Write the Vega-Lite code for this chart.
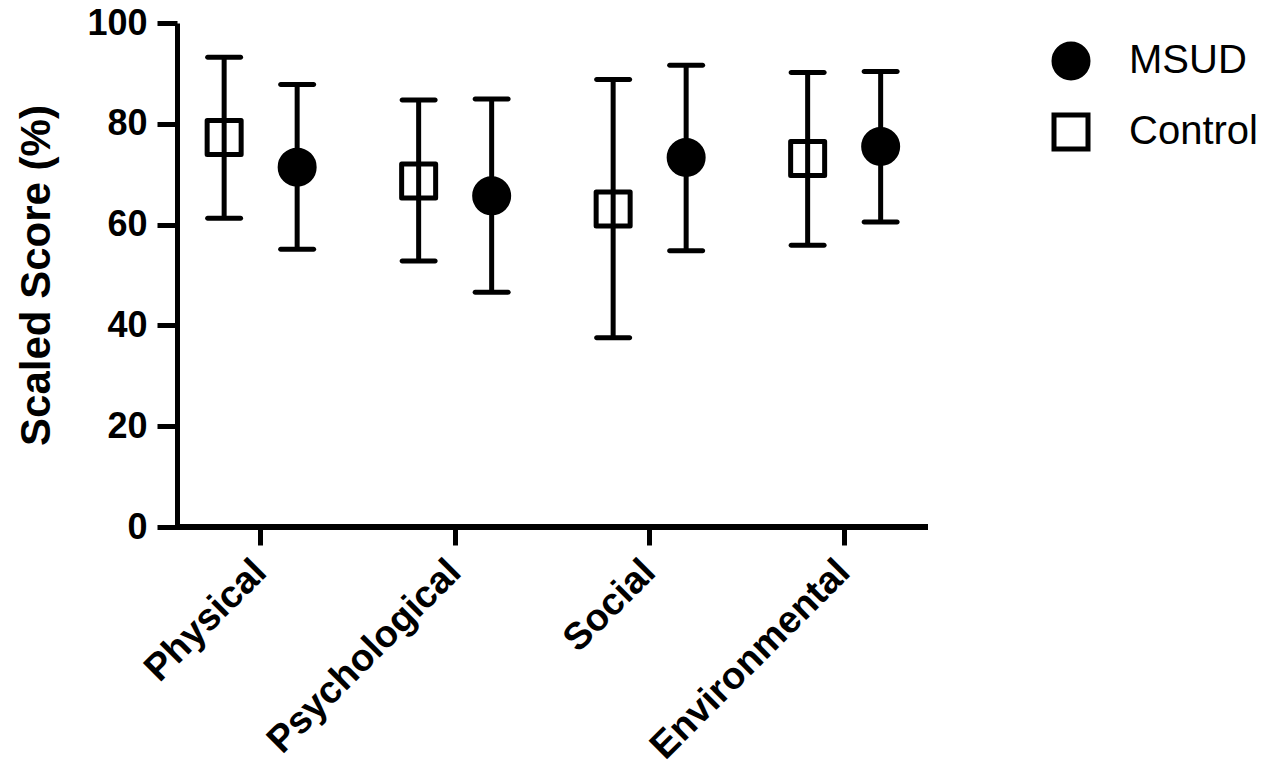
{
  "$schema": "https://vega.github.io/schema/vega-lite/v6.json",
  "width": 751,
  "height": 504,
  "autosize": {"type": "none"},
  "padding": {"left": 177, "top": 23, "right": 334, "bottom": 240},
  "background": "white",
  "config": {"view": {"stroke": null}, "font": "Liberation Sans"},
  "data": {"values": [
    {"domain": "Physical", "group": "Control", "mean": 77.3, "lower": 61.25, "upper": 93.2},
    {"domain": "Physical", "group": "MSUD", "mean": 71.4, "lower": 55.1, "upper": 87.8},
    {"domain": "Psychological", "group": "Control", "mean": 68.65, "lower": 52.8, "upper": 84.7},
    {"domain": "Psychological", "group": "MSUD", "mean": 65.7, "lower": 46.6, "upper": 84.9},
    {"domain": "Social", "group": "Control", "mean": 63.1, "lower": 37.56, "upper": 88.8},
    {"domain": "Social", "group": "MSUD", "mean": 73.3, "lower": 54.8, "upper": 91.6},
    {"domain": "Environmental", "group": "Control", "mean": 73.1, "lower": 55.9, "upper": 90.2},
    {"domain": "Environmental", "group": "MSUD", "mean": 75.5, "lower": 60.5, "upper": 90.4}
  ]},
  "layer": [
    {
      "mark": {"type": "rule", "strokeWidth": 5, "color": "black"},
      "encoding": {"y": {"datum": 0, "type": "quantitative"}}
    },
    {
      "encoding": {
        "x": {
          "field": "domain", "type": "nominal",
          "sort": ["Physical", "Psychological", "Social", "Environmental"],
          "scale": {"paddingInner": 0, "paddingOuter": 0, "range": [-13.6, 764.4]},
          "axis": {
            "title": null, "labelAngle": -45, "labelAlign": "right", "labelBaseline": "middle",
            "labelFontSize": 38, "labelFontWeight": "bold", "labelFont": "Liberation Sans", "labelColor": "black",
            "labelPadding": 21, "labelOverlap": false, "labelBound": false, "labelFlush": false, "labelLimit": 0,
            "tickSize": 18, "tickWidth": 5, "tickColor": "black",
            "domain": false, "grid": false
          }
        },
        "xOffset": {
          "field": "group", "type": "nominal",
          "scale": {"domain": ["Control", "MSUD"], "paddingInner": 0, "paddingOuter": 0.332}
        }
      },
      "layer": [
        {
          "mark": {"type": "point", "size": 1156, "strokeWidth": 5, "opacity": 1, "filled": false, "strokeJoin": "round"},
          "encoding": {
            "y": {
              "field": "mean", "type": "quantitative",
              "scale": {"domain": [0, 100], "nice": false, "zero": true},
              "axis": {
                "values": [0, 20, 40, 60, 80, 100],
                "title": "Scaled Score (%)", "titleFontSize": 42, "titleFontWeight": "bold", "titleFont": "Liberation Sans", "titleColor": "black",
                "titlePadding": 28,
                "labelFontSize": 36, "labelFontWeight": "bold", "labelFont": "Liberation Sans", "labelColor": "black",
                "labelPadding": 10, "tickSize": 20, "tickWidth": 5, "tickColor": "black",
                "domainWidth": 5, "domainColor": "black", "grid": false
              }
            },
            "shape": {
              "field": "group", "type": "nominal",
              "scale": {"domain": ["MSUD", "Control"], "range": ["circle", "square"]},
              "legend": {
                "title": null, "orient": "none", "legendX": 874, "legendY": 18, "padding": 0,
                "labelFontSize": 40, "labelFont": "Liberation Sans", "labelColor": "black",
                "symbolSize": 1156, "symbolStrokeWidth": 5,
                "rowPadding": 17, "labelOffset": 38
              }
            },
            "fill": {
              "field": "group", "type": "nominal",
              "scale": {"domain": ["MSUD", "Control"], "range": ["black", "white"]},
              "legend": {
                "title": null, "orient": "none", "legendX": 874, "legendY": 18, "padding": 0,
                "labelFontSize": 40, "labelFont": "Liberation Sans", "labelColor": "black",
                "symbolSize": 1156, "symbolStrokeWidth": 5,
                "rowPadding": 17, "labelOffset": 38
              }
            },
            "stroke": {
              "field": "group", "type": "nominal",
              "scale": {"domain": ["MSUD", "Control"], "range": ["black", "black"]},
              "legend": {
                "title": null, "orient": "none", "legendX": 874, "legendY": 18, "padding": 0,
                "labelFontSize": 40, "labelFont": "Liberation Sans", "labelColor": "black",
                "symbolSize": 1156, "symbolStrokeWidth": 5,
                "rowPadding": 17, "labelOffset": 38
              }
            }
          }
        },
        {
          "mark": {"type": "rule", "strokeWidth": 5, "color": "black"},
          "encoding": {
            "y": {"field": "lower", "type": "quantitative"},
            "y2": {"field": "upper"}
          }
        },
        {
          "mark": {"type": "tick", "size": 38, "thickness": 5, "color": "black", "cornerRadius": 2.5, "opacity": 1},
          "encoding": {"y": {"field": "lower", "type": "quantitative"}}
        },
        {
          "mark": {"type": "tick", "size": 38, "thickness": 5, "color": "black", "cornerRadius": 2.5, "opacity": 1},
          "encoding": {"y": {"field": "upper", "type": "quantitative"}}
        }
      ]
    }
  ]
}
